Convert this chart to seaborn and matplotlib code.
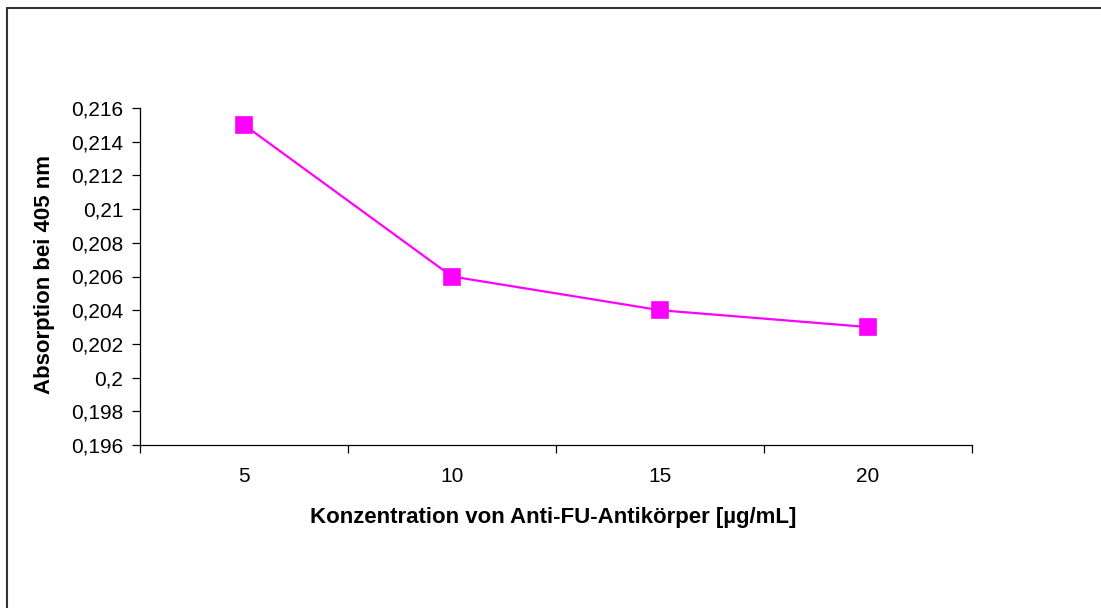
import matplotlib
matplotlib.use("Agg")
import matplotlib.pyplot as plt
from matplotlib.lines import Line2D
from matplotlib.ticker import FixedLocator, FuncFormatter
import numpy as np
import pandas as pd
import seaborn as sns

# Antibody concentrations (µg/mL) and measured absorption at 405 nm
concentrations = ["5", "10", "15", "20"]
absorption = [0.215, 0.206, 0.204, 0.203]
y_ticks = [0.196, 0.198, 0.200, 0.202, 0.204, 0.206, 0.208, 0.210, 0.212, 0.214, 0.216]

df = pd.DataFrame({"Konzentration": concentrations, "Absorption": absorption})

sns.set_theme(style="white")
plt.rcParams["font.family"] = ["Liberation Sans", "DejaVu Sans"]

W, H = 1101, 608
fig = plt.figure(figsize=(W / 100, H / 100), dpi=100)
ax = fig.add_axes([140 / W, 1 - 445 / H, 832 / W, 337 / H])

sns.pointplot(data=df, x="Konzentration", y="Absorption", order=concentrations,
              color="#FF00FF", markers="s", linestyles="-", ax=ax,
              markersize=11, linewidth=1.6, errorbar=None)
for line in ax.lines:
    line.set_markeredgecolor("#FF00FF")

ax.set_xlim(-0.5, len(concentrations) - 0.5)
ax.set_ylim(y_ticks[0], y_ticks[-1])

# y axis: comma decimal separator
ax.yaxis.set_major_locator(FixedLocator(y_ticks))
ax.yaxis.set_major_formatter(FuncFormatter(lambda v, _: f"{round(v, 3):g}".replace(".", ",")))

# x axis: labels at category centres, tick marks between categories
ax.set_xticks(range(len(concentrations)))
ax.set_xticklabels(concentrations)
ax.set_xticks(np.arange(-0.5, len(concentrations)), minor=True)
ax.tick_params(axis="x", which="major", length=0, pad=16, labelsize=15, colors="black")
ax.tick_params(axis="x", which="minor", length=6, width=0.9, color="black", direction="out")
ax.tick_params(axis="y", which="major", length=6, width=0.9, color="black",
               direction="out", pad=6, labelsize=15, labelcolor="black")
ax.tick_params(left=True, bottom=True)
ax.xaxis.set_tick_params(which="minor", bottom=True)

for side in ("top", "right"):
    ax.spines[side].set_visible(False)
for side in ("left", "bottom"):
    ax.spines[side].set_color("black")
    ax.spines[side].set_linewidth(0.9)

ax.set_xlabel("Konzentration von Anti-FU-Antikörper [µg/mL]", fontsize=16,
              fontweight="bold", color="black", va="center", ha="center")
ax.xaxis.set_label_coords(0.497, -0.2166)
ax.set_ylabel("Absorption bei 405 nm", fontsize=16, fontweight="bold",
              color="black", va="center", ha="center")
ax.yaxis.set_label_coords(-0.1142, 0.507)
ax.grid(False)

# chart frame (top and left edges)
fig.add_artist(Line2D([7 / W, 7 / W], [0, 1 - 7.5 / H], transform=fig.transFigure,
                      color="#333333", linewidth=1.5))
fig.add_artist(Line2D([7 / W, 1], [1 - 7.5 / H, 1 - 7.5 / H], transform=fig.transFigure,
                      color="#333333", linewidth=1.5))

fig.savefig("out.png", dpi=100, facecolor="white")
